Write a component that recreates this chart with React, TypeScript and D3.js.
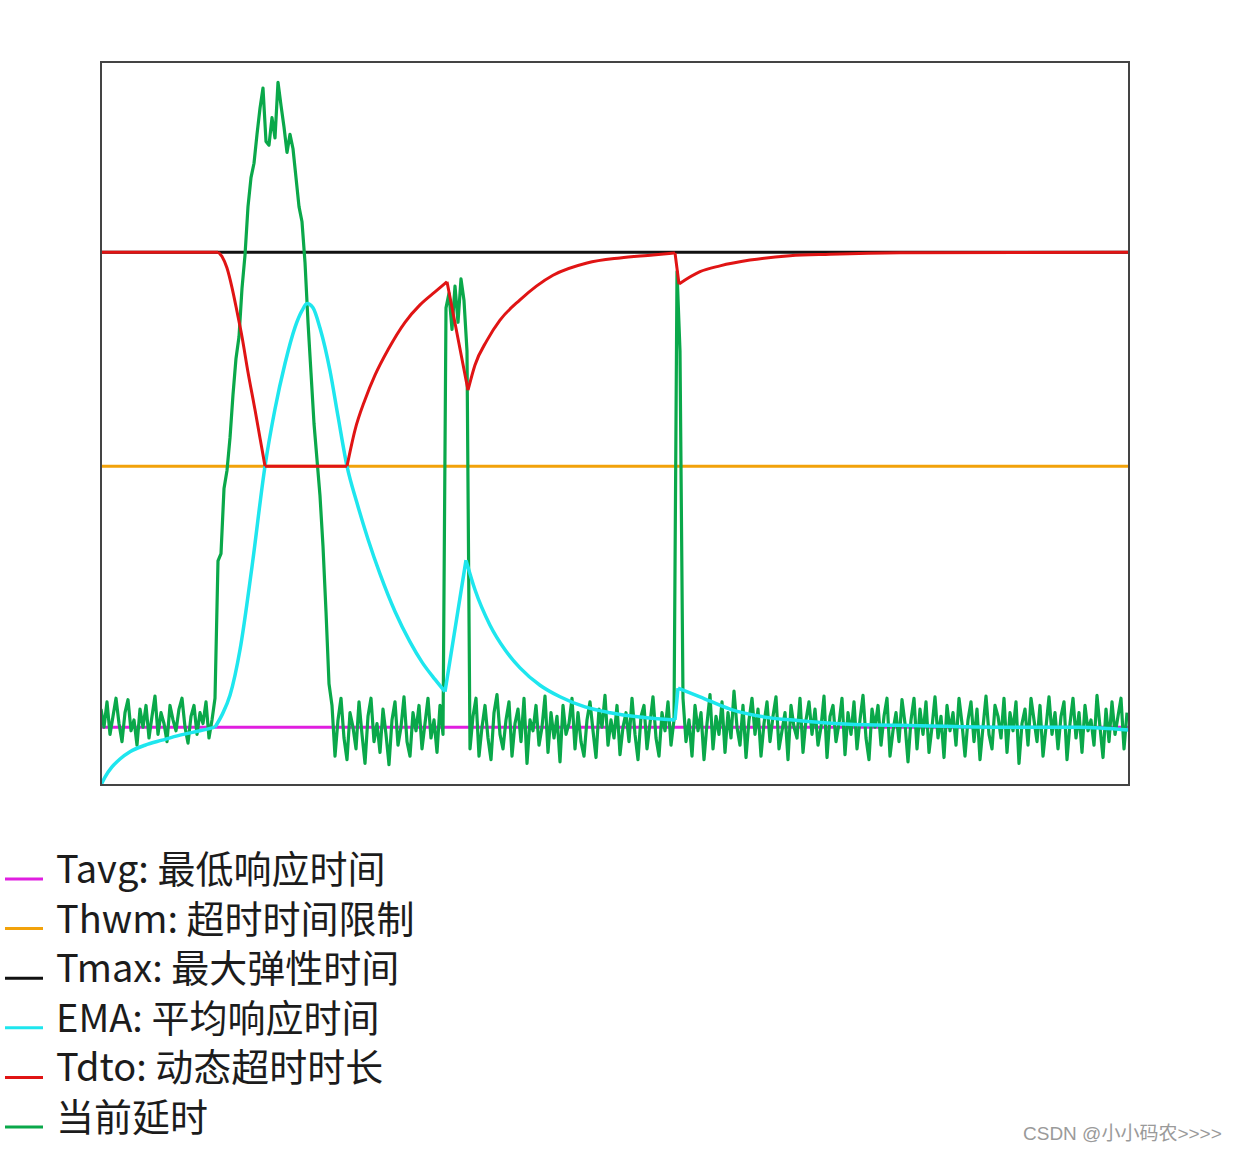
import React from "react";
import * as d3 from "d3";

// ---- data (time units 0..1028, value units 0..100) ----
const T_END = 1028;
const TAVG = 8.0; // 最低响应时间
const THWM = 44.1; // 超时时间限制
const TMAX = 73.7; // 最大弹性时间

const SAMPLE_STEP = 3;

// 当前延时, one sample every SAMPLE_STEP time units
const delayStart = [10.5, 8, 11.5, 7, 9.5, 12, 8.5, 6, 10, 11.8, 7.5, 9, 5.5, 10.5, 8, 11, 6.5, 9.5, 12.3, 7, 10, 8.5, 6, 11, 9, 7.5, 10.5, 12, 8, 5.8, 9.5, 11, 7, 10, 8.5, 11.5, 6.5, 9, 12];
const delayBurst = [31, 32, 41, 43.5, 48, 54, 59, 62, 68.7, 73.3, 80, 84, 86, 90, 93.6, 96.4, 89, 88.5, 92.3, 89.5, 97.2, 94, 91, 87.5, 90, 88, 84, 80, 77.9, 72.3, 64, 57, 50, 45, 40, 33, 24, 14];
const delayMid = [11, 4, 9, 12, 6.5, 3.5, 10, 8, 5, 11.5, 7, 3, 9.5, 12, 6, 8.5, 4.5, 10.5, 7, 2.8, 9, 11.5, 5.5, 8, 12.2, 6, 4, 10, 7.5, 11, 5, 8.5, 12, 6.5, 9, 4.5, 11, 7];
const delaySpike2 = [66, 68, 63, 69, 64, 70, 67, 60];
const delayMid2 = [5, 9.5, 12, 4, 8, 11, 6.5, 3.5, 10, 12.5, 7, 5, 9, 11.5, 4, 8.5, 10.5, 6, 12, 3, 9, 7.5, 11, 5.5, 8, 12.3, 4.5, 10, 6.5, 9.5, 3.2, 11, 7, 8.5, 12, 5, 10, 6, 4, 9, 11.5, 7.5, 3.8, 10.5, 8, 12.4, 5.5, 9, 6.5, 11, 4.2, 8, 10, 6, 12, 7, 3.5, 9.5, 11, 5, 8.5, 12.2, 6.5, 4, 10, 7.5, 11.5, 5.5, 9];
const delaySpike3 = [71, 60];
const delayEnd = [12, 6, 9, 4, 11, 7.5, 10, 3.5, 8.5, 12.5, 5, 9.5, 7, 11.5, 4.5, 10, 6.5, 13, 8, 5.5, 11, 3.8, 9, 12, 7, 10.5, 4, 8.5, 11.5, 6, 9.5, 12.2, 5, 7.5, 10, 3.5, 11, 8, 6.5, 12, 4.5, 9, 11.5, 7, 10.5, 5.5, 8, 12.3, 3.8, 9.5, 11, 6, 8.5, 12, 4.2, 10, 7, 11.5, 5, 9, 12.4, 6.5, 3.5, 10.5, 8, 11, 5.5, 9.5, 12, 4, 7.5, 10, 6, 11.8, 8.5, 3.2, 9, 12, 5, 10.5, 7, 11.5, 4.5, 8, 12.2, 6.5, 9.5, 3.8, 11, 7.5, 10, 5.5, 12, 8.5, 4, 9, 11.5, 6, 10.5, 3.5, 8, 12.3, 7, 5, 11, 9.5, 6.5, 12, 4.5, 10, 7.5, 11.5, 3, 8.5, 10.5, 5.5, 12, 9, 6, 11, 4, 8, 12.2, 7, 10, 5, 9.5, 11.5, 3.5, 8.5, 12, 6.5, 10, 4.5, 11, 7.5, 9, 5.5, 12.4, 8, 3.8, 10.5, 6, 11.5, 7, 9.5, 12, 5, 10];
const delay = [...delayStart, ...delayBurst, ...delayMid, ...delaySpike2, ...delayMid2, ...delaySpike3, ...delayEnd];

// Tdto: 动态超时时长
const tdtoT = [0, 117, 121, 126, 131, 136, 141, 147, 154, 159, 164, 246, 254, 264, 274, 287, 304, 319, 334, 346, 367, 374, 386, 399, 419, 452, 486, 519, 552, 574, 578, 599, 619, 649, 689, 729, 799, 1028];
const tdtoV = [73.7, 73.7, 73.1, 71.5, 68.8, 65.5, 62.0, 57.1, 51.9, 48.0, 44.1, 44.1, 49.1, 53.3, 56.7, 60.2, 64.0, 66.4, 68.2, 69.6, 54.6, 58.1, 61.5, 64.3, 67.1, 70.5, 72.2, 72.9, 73.3, 73.6, 69.3, 71.0, 71.8, 72.6, 73.2, 73.4, 73.6, 73.7];
const tdtoCorners = [117, 164, 246, 346, 367, 574, 578];

// EMA: 平均响应时间
const emaT = [0, 4, 11, 19, 29, 44, 61, 79, 99, 114, 121, 129, 139, 151, 164, 174, 184, 194, 201, 206, 212, 219, 229, 237, 246, 256, 267, 279, 294, 309, 321, 334, 344, 365, 374, 389, 404, 419, 439, 459, 484, 509, 539, 574, 577, 599, 629, 659, 699, 749, 819, 899, 979, 1028];
const emaV = [0, 1.1, 2.5, 3.6, 4.6, 5.5, 6.2, 6.9, 7.5, 8.0, 9.7, 12.4, 18.7, 30.2, 44.1, 52.0, 58.3, 63.3, 65.6, 66.6, 66.0, 63.2, 57.3, 51.0, 44.1, 39.0, 34.0, 29.2, 24.0, 19.8, 17.0, 14.6, 12.9, 31.1, 27.0, 22.1, 18.7, 16.2, 13.8, 12.2, 10.8, 10.0, 9.4, 9.0, 13.4, 12.2, 10.5, 9.5, 8.9, 8.4, 8.2, 8.0, 8.0, 7.6];
const emaCorners = [114, 344, 365, 574, 577];

const legendLabels = ["Tavg: 最低响应时间", "Thwm: 超时时间限制", "Tmax: 最大弹性时间", "EMA: 平均响应时间", "Tdto: 动态超时时长", "当前延时"];
const legendColors = ["#e01ee0", "#f2a20a", "#111111", "#1ee6ee", "#e01414", "#0aa84a"];

type P = [number, number];

// split a polyline at corner times so each smooth piece is drawn with its own curve
function splitAt(pts: P[], corners: number[]): P[][] {
  const out: P[][] = [];
  let cur: P[] = [];
  pts.forEach((p) => {
    cur.push(p);
    if (corners.includes(p[0])) {
      out.push(cur);
      cur = [p];
    }
  });
  if (cur.length > 1) out.push(cur);
  return out;
}

export default function App() {
  const W = 1237, H = 1152;
  const x = d3.scaleLinear().domain([0, T_END]).range([101, 1129]);
  const y = d3.scaleLinear().domain([0, 100]).range([785, 62]);

  const line = d3.line<P>().x((d) => x(d[0])).y((d) => y(d[1]));
  const smooth = d3.line<P>().x((d) => x(d[0])).y((d) => y(d[1])).curve(d3.curveMonotoneX);
  const delayPts: P[] = delay.map((v, i) => [i * SAMPLE_STEP, v]);
  const tdtoPts: P[] = tdtoT.map((t, i) => [t, tdtoV[i]]);
  const emaPts: P[] = emaT.map((t, i) => [t, emaV[i]]);
  const hLine = (v: number) => line([[0, v], [T_END, v]]) as string;
  const smoothPath = (pts: P[], corners: number[]) =>
    splitAt(pts, corners).map((seg) => smooth(seg) as string).join("");

  return (
    <svg width={W} height={H} style={{ position: "absolute", left: 0, top: 0, background: "#fff" }}>
      <rect x={0} y={0} width={W} height={H} fill="#fff" />
      <defs>
        <clipPath id="plot">
          <rect x={x(0)} y={y(100)} width={x(T_END) - x(0)} height={y(0) - y(100)} />
        </clipPath>
      </defs>
      <g clipPath="url(#plot)" fill="none" strokeLinejoin="round">
        <path d={hLine(TAVG)} stroke={legendColors[0]} strokeWidth={3} />
        <path d={hLine(THWM)} stroke={legendColors[1]} strokeWidth={3} />
        <path d={hLine(TMAX)} stroke={legendColors[2]} strokeWidth={3} />
        <path d={line(delayPts) as string} stroke={legendColors[5]} strokeWidth={3.2} />
        <path d={smoothPath(emaPts, emaCorners)} stroke={legendColors[3]} strokeWidth={3.5} />
        <path d={smoothPath(tdtoPts, tdtoCorners)} stroke={legendColors[4]} strokeWidth={3} />
      </g>
      <rect x={x(0)} y={y(100)} width={x(T_END) - x(0)} height={y(0) - y(100)} fill="none" stroke="#444" strokeWidth={2} />

      <g>
        {legendLabels.map((lab, i) => (
          <g key={lab}>
            <line x1={5} x2={43} y1={879 + i * 49.6} y2={879 + i * 49.6} stroke={legendColors[i]} strokeWidth={3} />
            <text x={56} y={883 + i * 49.6} fontFamily="'Noto Sans CJK SC', 'Noto Sans', sans-serif" fontSize={38} fill="#1c1c1c">
              {lab}
            </text>
          </g>
        ))}
      </g>
      <text x={1023} y={1140} fontFamily="'Liberation Sans', 'Noto Sans CJK SC', sans-serif" fontSize={19} fill="#9a9a9a">
        CSDN @小小码农&gt;&gt;&gt;&gt;
      </text>
    </svg>
  );
}
